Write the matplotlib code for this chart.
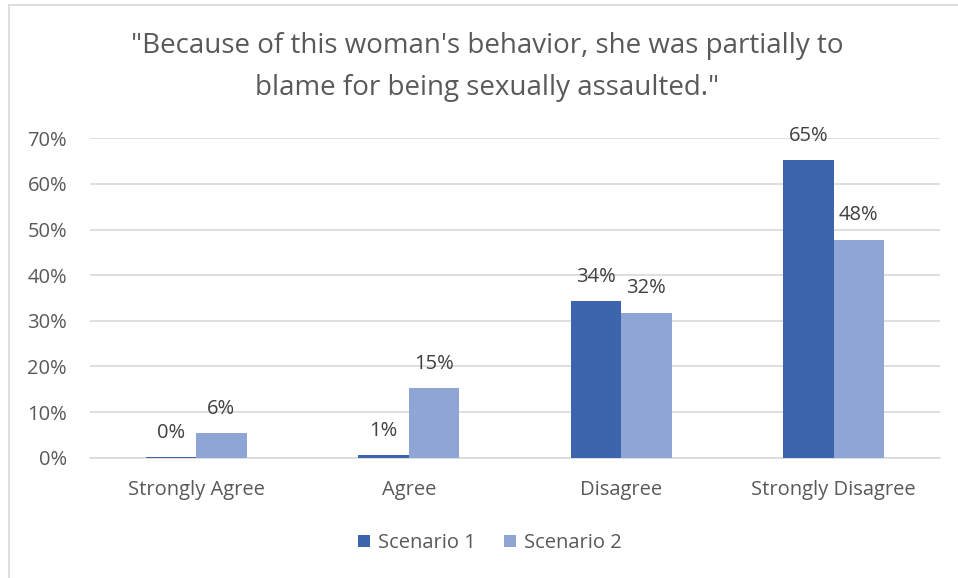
import matplotlib
matplotlib.use("Agg")
import matplotlib.pyplot as plt
import numpy as np
from matplotlib.lines import Line2D
from matplotlib.patches import Patch

categories = ["Strongly Agree", "Agree", "Disagree", "Strongly Disagree"]
scenario1 = [0.2, 0.5, 34.3, 65.3]
scenario2 = [5.4, 15.3, 31.8, 47.8]
labels1 = ["0%", "1%", "34%", "65%"]
labels2 = ["6%", "15%", "32%", "48%"]
yticks = [0, 10, 20, 30, 40, 50, 60, 70]
title = "\"Because of this woman's behavior, she was partially to\nblame for being sexually assaulted.\""

c1 = "#3D65AD"
c2 = "#8FA5D5"
txt = "#595959"
font = "Open Sans"
plt.rcParams['font.family'] = [font, 'DejaVu Sans']
fs = 14.5

W, H = 958, 578
fig = plt.figure(figsize=(W/100, H/100), dpi=100)
ax = fig.add_axes([90/W, 1-457.7/H, 850/W, (457.7-138.3)/H])

x = np.arange(len(categories))
w = 0.237
b1 = ax.bar(x - w/2, scenario1, w, color=c1, zorder=3)
b2 = ax.bar(x + w/2, scenario2, w, color=c2, zorder=3)

for rect, lab in zip(b1, labels1):
    ax.text(rect.get_x() + rect.get_width()/2, rect.get_height() + 3.1, lab,
            ha="center", va="bottom", fontsize=fs, color="#404040")
for rect, lab in zip(b2, labels2):
    ax.text(rect.get_x() + rect.get_width()/2, rect.get_height() + 3.1, lab,
            ha="center", va="bottom", fontsize=fs, color="#404040")

ax.set_xlim(-0.5, len(categories) - 0.5)
ax.set_ylim(0, 70)
ax.set_yticks(yticks)
ax.set_yticklabels([f"{v}%" for v in yticks], fontsize=fs, color=txt)
ax.set_xticks(x)
ax.set_xticklabels(categories, fontsize=fs, color=txt)
ax.tick_params(axis="both", length=0)
ax.tick_params(axis="y", pad=16.5)
ax.tick_params(axis="x", pad=16)
ax.grid(axis="y", color="#D9D9D9", linewidth=1.2, zorder=0)
for s in ["top", "right", "left"]:
    ax.spines[s].set_visible(False)
ax.spines["bottom"].set_color("#D9D9D9")
ax.spines["bottom"].set_linewidth(1.2)

fig.text(487/W, 1-67/H, title, ha="center", va="center", fontsize=20,
         color=txt, linespacing=1.62)

handles = [Patch(facecolor=c1, label="Scenario 1"), Patch(facecolor=c2, label="Scenario 2")]
fig.legend(handles=handles, loc="center", bbox_to_anchor=(490/W, 1-543/H), ncol=2,
           frameon=False, fontsize=fs, labelcolor=txt, handlelength=0.6,
           handleheight=0.6, handletextpad=0.4, columnspacing=1.4)

# chart border (partially visible)
fig.add_artist(Line2D([8.5/W, 8.5/W], [0, 1-5/H], color="#D9D9D9", linewidth=1.2,
                      transform=fig.transFigure))
fig.add_artist(Line2D([8.5/W, 1], [1-5/H, 1-5/H], color="#D9D9D9", linewidth=1.2,
                      transform=fig.transFigure))

fig.savefig("out.png", dpi=100, facecolor="white")
